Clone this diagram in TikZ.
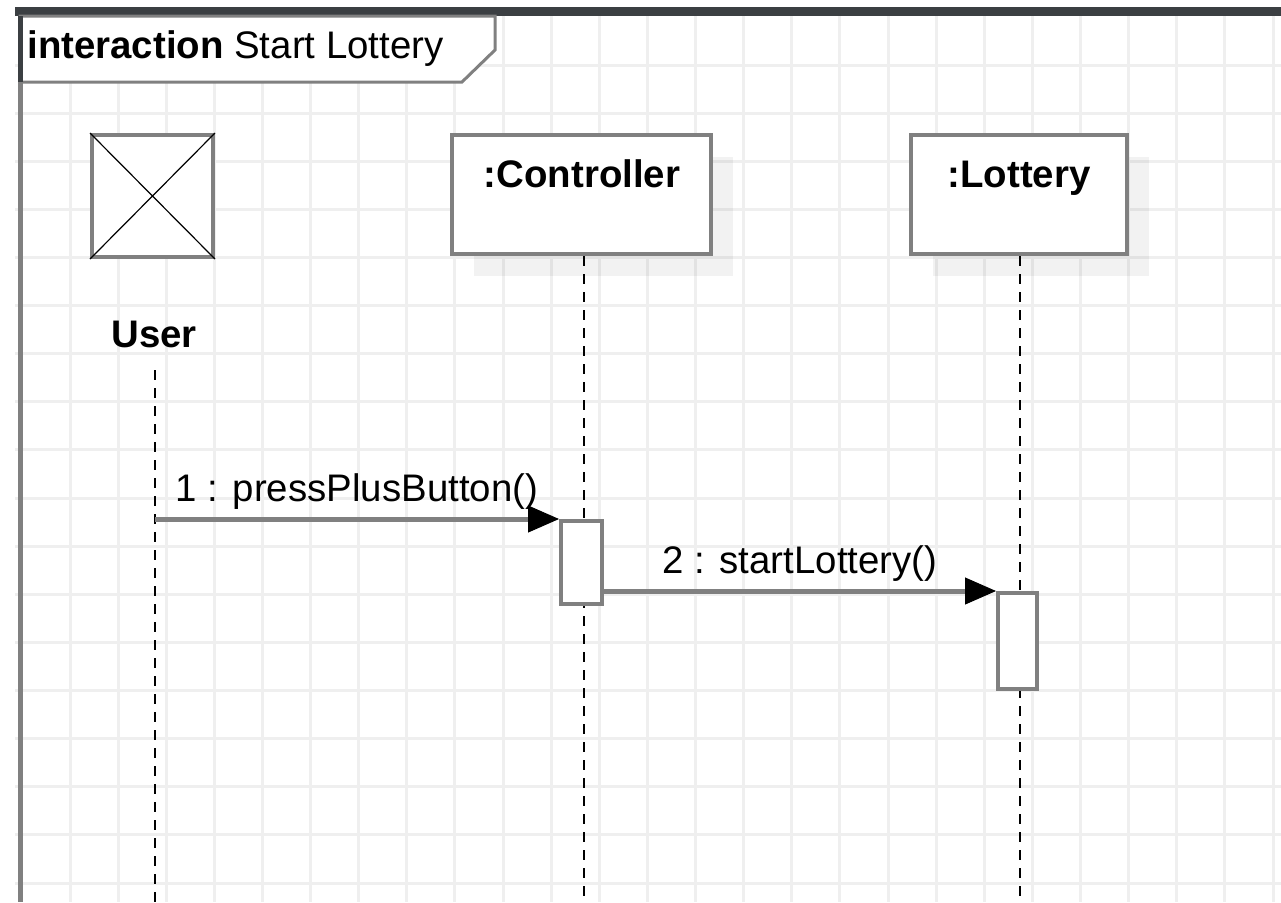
\documentclass[tikz,border=0pt]{standalone}
\usepackage{fontspec}
\setmainfont{Liberation Sans}
\usetikzlibrary{arrows.meta}
\definecolor{umlgray}{HTML}{808080}
\definecolor{gridgray}{HTML}{EFEFEF}
\definecolor{barcolor}{HTML}{3B3F42}
\begin{document}
\begin{tikzpicture}[x=0.5pt,y=-0.5pt,
  objbox/.style={draw=umlgray,line width=2pt,fill=white,inner sep=0pt},
  objname/.style={font=\fontsize{19.2pt}{23pt}\selectfont\bfseries,anchor=base,inner sep=0pt},
  actbox/.style={draw=umlgray,line width=2pt,fill=white,inner sep=0pt},
  lifeline/.style={line width=1.4pt,dash pattern=on 5pt off 4pt},
  msg/.style={draw=umlgray,line width=2.5pt,-{Triangle[length=15.5pt,width=13.5pt,line width=0.5pt,color=black]}},
  msglabel/.style={font=\fontsize{19.2pt}{23pt}\selectfont,anchor=base,inner sep=0pt,yshift=9pt}]
  \useasboundingbox (0,0) rectangle (1281,902);
  \def\g{48.12}
  \foreach \i in {0,...,25} \draw[gridgray,line width=1.5pt] ({70+\i*\g},16) -- ({70+\i*\g},902);
  \foreach \j in {0,...,17} \draw[gridgray,line width=1.5pt] (15,{65+\j*\g}) -- (1281,{65+\j*\g});
  \fill[black,fill opacity=0.05] (474,157) rectangle (733,276);
  \fill[black,fill opacity=0.05] (933,157) rectangle (1149,276);
  \fill[barcolor] (15,7) rectangle (1281,16);
  \fill[umlgray] (18,16) rectangle (23,902);
  \draw[umlgray,line width=1.5pt,fill=white] (20,16) -- (495,16) -- (495,50) -- (462,82) -- (20,82) -- cycle;
  \draw[barcolor,line width=2.5pt] (20.5,16) -- (20.5,82);
  \node[font=\fontsize{19.2pt}{23pt}\selectfont,anchor=base west,inner sep=0pt] (title) at (27,58) {\textbf{interaction} Start Lottery};
  \coordinate (usertop) at (155,370);
  \coordinate (userend) at (155,902);
  \coordinate (ctrltop) at (584,256);
  \coordinate (ctrlend) at (584,902);
  \coordinate (lottop) at (1020,256);
  \coordinate (lotend) at (1020,902);
  \draw[lifeline] (usertop) -- (userend);
  \draw[lifeline] (ctrltop) -- (ctrlend);
  \draw[lifeline] (lottop) -- (lotend);
  \node[objbox,minimum width=60.5pt,minimum height=61pt] (user) at (152.5,196) {};
  \draw[line width=0.6pt] (user.north west) -- (user.south east) (user.north east) -- (user.south west);
  \node[objname] (usertext) at (154,347) {User};
  \node[objbox,minimum width=129.5pt,minimum height=59.5pt] (ctrl) at (581.5,194.5) {};
  \node[objname] (ctrltext) at (582,187) {:Controller};
  \node[objbox,minimum width=108pt,minimum height=59.5pt] (lot) at (1019,194.5) {};
  \node[objname] (lottext) at (1019,187) {:Lottery};
  \node[actbox,minimum width=20.5pt,minimum height=41.5pt] (actctrl) at (581.5,562.5) {};
  \node[actbox,minimum width=19.5pt,minimum height=48pt] (actlot) at (1017.5,641) {};
  \draw[msg] (usertop |- actctrl.north) -- (actctrl.north west) node[msglabel,midway] (m1) {1 : pressPlusButton()};
  \draw[msg] (actctrl.east |- actlot.north) -- (actlot.north west) node[msglabel,midway] (m2) {2 : startLottery()};
\end{tikzpicture}
\end{document}
